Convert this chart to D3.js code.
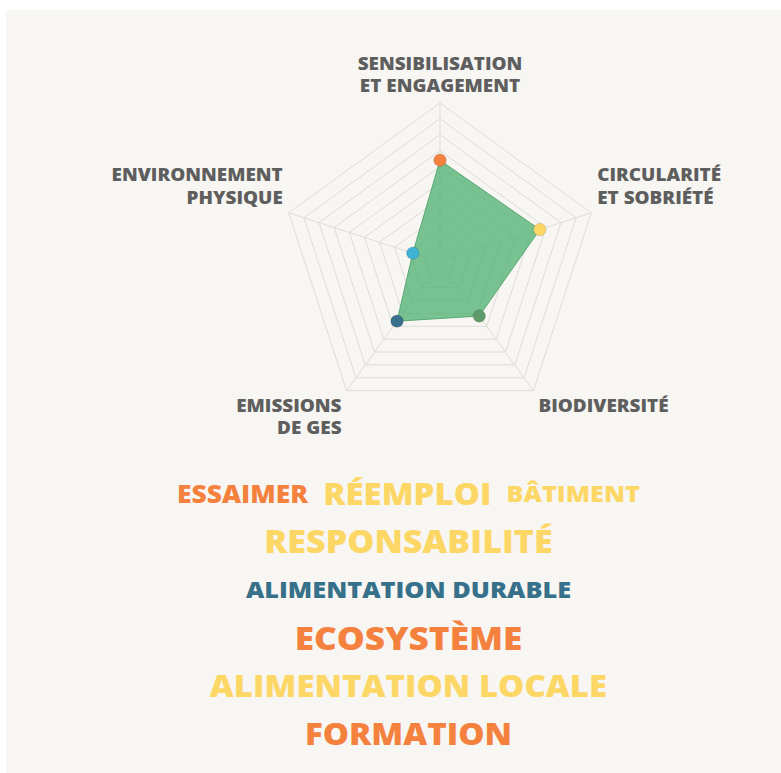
<!DOCTYPE html>
<html>
<head>
<meta charset="utf-8">
<script src="https://cdn.jsdelivr.net/npm/d3@7"></script>
<style>
  html, body { margin: 0; padding: 0; background: #ffffff; }
  svg { display: block; }
  text { font-family: 'Open Sans', 'Lato', sans-serif; font-weight: 800; }
</style>
</head>
<body>
<svg id="chart" width="781" height="773"></svg>
<script>
// ---------- DATA ----------
const axisLabels = [
  ['SENSIBILISATION', 'ET ENGAGEMENT'],
  ['CIRCULARITÉ', 'ET SOBRIÉTÉ'],
  ['BIODIVERSITÉ'],
  ['EMISSIONS', 'DE GES'],
  ['ENVIRONNEMENT', 'PHYSIQUE'],
];
const scores = [6.4, 6.6, 4.2, 4.6, 1.8];
const axisColors = ['#f5813f', '#fdd766', '#5e9a6a', '#36708a', '#3fb3d6'];
const gridLevels = [1, 2, 3, 4, 5, 6, 7, 8, 9, 10];

const words = [
  'ESSAIMER', 'RÉEMPLOI', 'BÂTIMENT', 'RESPONSABILITÉ',
  'ALIMENTATION DURABLE', 'ECOSYSTÈME', 'ALIMENTATION LOCALE', 'FORMATION',
];
const wordWeights = [2, 8, 1, 9, 1, 10, 8, 8];
const wordAxis = [0, 1, 1, 1, 3, 0, 1, 0]; // which axis colour the word takes
const wordRows = [0, 0, 0, 1, 2, 3, 4, 5];

// ---------- SETUP ----------
const svg = d3.select('#chart');
const width = +svg.attr('width');
const height = +svg.attr('height');
// reference face is a wide geometric sans, so stretch the glyphs a bit
const labelStretch = 1.08;
const wordStretch = 1.1;

svg.append('rect')
  .attr('x', 6).attr('y', 10)
  .attr('width', width - 6).attr('height', height - 10)
  .attr('fill', '#f7f6f2');

const cx = 440, cy = 262, radius = 159;
const n = axisLabels.length;

const r = d3.scaleLinear().domain([0, 10]).range([0, radius]);
const angle = d3.scaleLinear().domain([0, n]).range([0, 2 * Math.PI]);
const wordColor = d3.scaleOrdinal().domain(d3.range(n)).range(axisColors);

const radial = d3.lineRadial()
  .angle((d, i) => angle(i))
  .radius((d) => r(d))
  .curve(d3.curveLinearClosed);

const pt = (i, v) => [
  cx + r(v) * Math.sin(angle(i)),
  cy - r(v) * Math.cos(angle(i)),
];

function widen(sel, k) {
  sel.each(function () {
    const len = this.getComputedTextLength();
    d3.select(this)
      .attr('textLength', len * k)
      .attr('lengthAdjust', 'spacingAndGlyphs');
  });
}

const g = svg.append('g').attr('transform', `translate(${cx},${cy})`);

// grid pentagons
g.selectAll('path.grid')
  .data(gridLevels)
  .join('path')
  .attr('class', 'grid')
  .attr('d', (lv) => radial(axisLabels.map(() => lv)))
  .attr('fill', 'none')
  .attr('stroke', '#dedcd8')
  .attr('stroke-width', 1);

// spokes
g.selectAll('line.spoke')
  .data(axisLabels)
  .join('line')
  .attr('class', 'spoke')
  .attr('x1', 0).attr('y1', 0)
  .attr('x2', (d, i) => pt(i, 10)[0] - cx)
  .attr('y2', (d, i) => pt(i, 10)[1] - cy)
  .attr('stroke', '#dedcd8')
  .attr('stroke-width', 1);

// score polygon
g.append('path')
  .datum(scores)
  .attr('d', radial)
  .attr('fill', '#4caf6e')
  .attr('fill-opacity', 0.74)
  .attr('stroke', '#5aa874')
  .attr('stroke-width', 1);

// dots
svg.selectAll('circle.dot')
  .data(scores)
  .join('circle')
  .attr('class', 'dot')
  .attr('cx', (d, i) => pt(i, d)[0])
  .attr('cy', (d, i) => pt(i, d)[1])
  .attr('r', 6.2)
  .attr('fill', (d, i) => axisColors[i])
  .attr('stroke', 'rgba(0,0,0,0.2)')
  .attr('stroke-width', 0.6);

// axis labels
const labelSize = 17.5, lineH = 22.4;
axisLabels.forEach((lines, i) => {
  const [vx, vy] = pt(i, 10);
  const s = Math.sin(angle(i));
  let anchor, x, firstY;
  if (Math.abs(s) < 0.01) {
    anchor = 'middle'; x = vx;
    firstY = vy - 11 - (lines.length - 1) * lineH;
  } else if (vy < cy) {
    anchor = s > 0 ? 'start' : 'end';
    x = vx + (s > 0 ? 6 : -6);
    firstY = vy - 9 - (lines.length - 1) * lineH;
  } else {
    anchor = s > 0 ? 'start' : 'end';
    x = vx + (s > 0 ? 5 : -5);
    firstY = vy + 21;
  }
  lines.forEach((ln, k) => {
    svg.append('text')
      .attr('class', 'axis-label')
      .attr('text-anchor', anchor)
      .attr('font-size', labelSize)
      .attr('fill', '#5e5e5e')
      .attr('x', x)
      .attr('y', firstY + k * lineH)
      .text(ln);
  });
});
widen(svg.selectAll('text.axis-label'), labelStretch);

// ---------- WORD CLOUD ----------
const size = d3.scaleLinear().domain([1, 10]).range([23, 32]);
const rowY = d3.scalePoint()
  .domain(d3.range(d3.max(wordRows) + 1))
  .range([494, 734]);
const cloudCx = 408.5, wordGap = 15, capRatio = 0.72;

const wordNodes = svg.selectAll('text.word')
  .data(words.map((w, i) => ({ w, i, row: wordRows[i], fs: size(wordWeights[i]) })))
  .join('text')
  .attr('class', 'word')
  .attr('font-size', (d) => d.fs)
  .attr('fill', (d) => wordColor(wordAxis[d.i]))
  .text((d) => d.w);

wordNodes.each(function (d) { d.len = this.getComputedTextLength() * wordStretch; });
widen(wordNodes, wordStretch);

d3.groups(wordNodes.data(), (d) => d.row).forEach(([row, items]) => {
  const total = d3.sum(items, (d) => d.len) + wordGap * (items.length - 1);
  let x = cloudCx - total / 2;
  items.forEach((d) => { d.x = x; x += d.len + wordGap; });
  items.forEach((d) => { d.y = rowY(row) + (d.fs * capRatio) / 2; });
});

wordNodes.attr('x', (d) => d.x).attr('y', (d) => d.y);
</script>
</body>
</html>
